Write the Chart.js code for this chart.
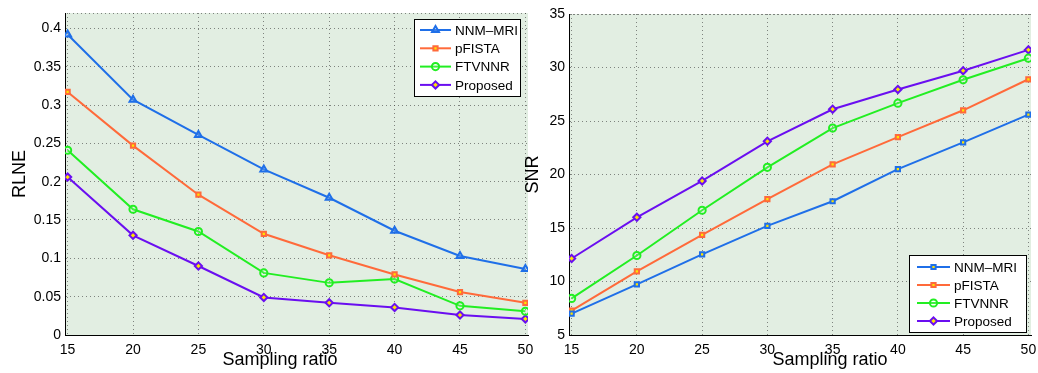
<!DOCTYPE html>
<html lang="en">
<head>
<meta charset="UTF-8">
<title>RLNE and SNR vs sampling ratio</title>
<script src="https://cdn.jsdelivr.net/npm/chart.js"></script>
<style>
  body { margin: 0; background: #fff; }
  #wrap { position: relative; width: 1038px; height: 373px; }
  canvas { position: absolute; top: 0; }
</style>
</head>
<body>
<div id="wrap">
  <canvas id="rlneChart" width="540" height="373" style="left:0"></canvas>
  <canvas id="snrChart" width="518" height="373" style="left:520px"></canvas>
</div>
<script>
// data
const ratios = [15, 20, 25, 30, 35, 40, 45, 50];
const methods = ['NNM–MRI', 'pFISTA', 'FTVNNR', 'Proposed'];

const rlneNNM = [0.392, 0.307, 0.261, 0.216, 0.179, 0.136, 0.103, 0.086];
const rlnePFISTA = [0.317, 0.247, 0.183, 0.132, 0.104, 0.079, 0.056, 0.042];
const rlneFTVNNR = [0.241, 0.164, 0.135, 0.081, 0.068, 0.073, 0.038, 0.031];
const rlneProposed = [0.206, 0.130, 0.090, 0.049, 0.042, 0.036, 0.026, 0.021];

const snrNNM = [7.0, 9.73, 12.53, 15.2, 17.5, 20.5, 23.0, 25.6];
const snrPFISTA = [7.27, 10.94, 14.36, 17.7, 20.95, 23.5, 26.0, 28.9];
const snrFTVNNR = [8.42, 12.43, 16.66, 20.67, 24.34, 26.67, 28.85, 30.87];
const snrProposed = [12.15, 16.0, 19.4, 23.1, 26.1, 27.95, 29.7, 31.65];

const xTicks = [15, 20, 25, 30, 35, 40, 45, 50];
const rlneTicks = [0, 0.05, 0.1, 0.15, 0.2, 0.25, 0.3, 0.35, 0.4];
const snrTicks = [5, 10, 15, 20, 25, 30, 35];
const xLabel = 'Sampling ratio';

const colors = ['#1f6fe8', '#ff6a3a', '#22ee22', '#6a0ef0'];
const FONT = '"Liberation Sans", Arial, Helvetica, sans-serif';

function pts(vals) {
    return ratios.map((r, i) => ({x: r, y: vals[i]}));
}

function makeSets(series, firstStyle) {
    const styles = [firstStyle, 'rect', 'circle', 'rectRot'];
    const fills = [firstStyle === 'rect' ? '#ffe400' : 'rgba(255,255,255,0.15)', '#ffe400', 'rgba(255,255,255,0.15)', '#ffe400'];
    const radii = [firstStyle === 'rect' ? 3 : 4, 3, 3.6, 3.6];
    return series.map((vals, i) => ({
        label: methods[i],
        data: pts(vals),
        borderColor: colors[i],
        backgroundColor: fills[i],
        pointBackgroundColor: fills[i],
        pointBorderColor: colors[i],
        pointStyle: styles[i],
        pointRadius: radii[i],
        pointBorderWidth: 2,
        borderWidth: 2,
        tension: 0
    }));
}

// green plot background + dotted top edge
const plotBg = {
    id: 'plotBg',
    beforeDraw(chart) {
        const {ctx, chartArea: a} = chart;
        ctx.save();
        ctx.fillStyle = '#e2eee2';
        ctx.fillRect(a.left, a.top, a.right - a.left, a.bottom - a.top);
        ctx.strokeStyle = 'rgba(60,60,60,0.6)';
        ctx.setLineDash([1, 3]);
        ctx.beginPath();
        ctx.moveTo(a.left, a.top + 0.5);
        ctx.lineTo(a.right, a.top + 0.5);
        ctx.stroke();
        ctx.restore();
    }
};

// x axis label, a little off-centre like the original figure
const xTitle = {
    id: 'xTitle',
    afterDraw(chart, args, opts) {
        const ctx = chart.ctx;
        ctx.save();
        ctx.fillStyle = '#000';
        ctx.font = '18px ' + FONT;
        ctx.textAlign = 'center';
        ctx.textBaseline = 'middle';
        ctx.fillText(xLabel, opts.x, opts.y);
        ctx.restore();
    }
};

// boxed legend inside the plot
const boxLegend = {
    id: 'boxLegend',
    afterDraw(chart, args, opts) {
        const ctx = chart.ctx;
        ctx.save();
        ctx.fillStyle = '#fff';
        ctx.fillRect(opts.x, opts.y, opts.w, opts.h);
        ctx.strokeStyle = '#000';
        ctx.lineWidth = 1;
        ctx.strokeRect(opts.x + 0.5, opts.y + 0.5, opts.w, opts.h);
        chart.data.datasets.forEach((ds, i) => {
            const y = opts.y + opts.rowTop + i * opts.rowGap;
            ctx.strokeStyle = ds.borderColor;
            ctx.lineWidth = 2;
            ctx.beginPath();
            ctx.moveTo(opts.x + opts.lineStart, y);
            ctx.lineTo(opts.x + opts.lineEnd, y);
            ctx.stroke();
            ctx.fillStyle = ds.pointBackgroundColor;
            ctx.strokeStyle = ds.borderColor;
            Chart.helpers.drawPoint(ctx, {
                pointStyle: ds.pointStyle, radius: ds.pointRadius, borderWidth: 2, rotation: 0
            }, opts.x + (opts.lineStart + opts.lineEnd) / 2, y);
            ctx.fillStyle = '#000';
            ctx.font = '13.5px ' + FONT;
            ctx.textBaseline = 'middle';
            ctx.fillText(ds.label, opts.x + opts.lineEnd + 4, y + 1);
        });
        ctx.restore();
    }
};

function makeChart(id, sets, yTicks, yMin, yMax, yTitle, yWidth, yTitlePad, pad, legend, titlePos) {
    return new Chart(document.getElementById(id), {
        type: 'line',
        data: {datasets: sets},
        plugins: [plotBg, xTitle, boxLegend],
        options: {
            responsive: false,
            animation: false,
            layout: {padding: pad},
            plugins: {legend: {display: false}, tooltip: {enabled: false},
                boxLegend: legend, xTitle: titlePos},
            scales: {
                x: {
                    type: 'linear', min: 14.8, max: 50.2,
                    afterBuildTicks: s => { s.ticks = xTicks.map(v => ({value: v})); },
                    afterFit: s => { s.height = 38; s.paddingLeft = 0; s.paddingRight = 0; },
                    grid: {color: 'rgba(60,60,60,0.6)', drawTicks: false},
                    border: {display: true, color: '#000', width: 1, dash: [1, 3]},
                    ticks: {color: '#000', font: {family: FONT, size: 14}, padding: 7, maxRotation: 0}
                },
                y: {
                    min: yMin, max: yMax,
                    afterBuildTicks: s => { s.ticks = yTicks.map(v => ({value: v})); },
                    afterFit: s => { s.width = yWidth; s.paddingTop = 0; s.paddingBottom = 0; },
                    grid: {color: 'rgba(60,60,60,0.6)', drawTicks: false},
                    border: {display: true, color: '#000', width: 1, dash: [1, 3]},
                    ticks: {color: '#000', font: {family: FONT, size: 14}, padding: 4,
                        callback: v => String(Math.round(v * 100) / 100)},
                    title: {display: true, text: yTitle, color: '#000',
                        font: {family: FONT, size: 18}, padding: {top: yTitlePad, bottom: 0}}
                }
            }
        }
    });
}

makeChart('rlneChart',
    makeSets([rlneNNM, rlnePFISTA, rlneFTVNNR, rlneProposed], 'triangle'),
    rlneTicks, 0, 0.42, 'RLNE', 65, 9,
    {left: 0, right: 12, top: 13, bottom: 0},
    {x: 414, y: 19, w: 106, h: 77, rowTop: 11, rowGap: 18.3, lineStart: 6, lineEnd: 37},
    {x: 280, y: 360});

makeChart('snrChart',
    makeSets([snrNNM, snrPFISTA, snrFTVNNR, snrProposed], 'rect'),
    snrTicks, 5, 35, 'SNR', 49, 2,
    {left: 0, right: 7, top: 14, bottom: 0},
    {x: 389, y: 255, w: 117, h: 77, rowTop: 12, rowGap: 18, lineStart: 8, lineEnd: 41},
    {x: 310, y: 360});
</script>
</body>
</html>
